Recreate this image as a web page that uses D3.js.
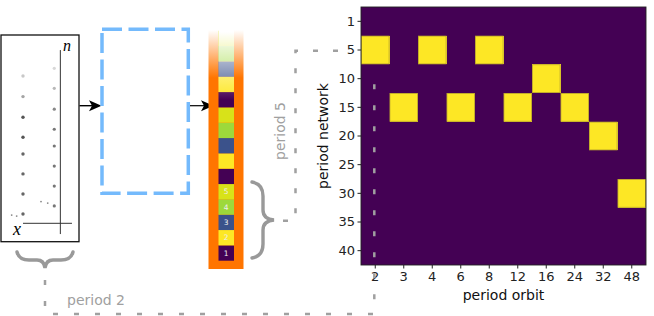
<!DOCTYPE html>
<html>
<head>
<meta charset="utf-8">
<script src="https://cdn.jsdelivr.net/npm/d3@7"></script>
<style>
body { margin:0; background:#fff; }
svg { display:block; font-family:"DejaVu Sans", sans-serif; }
</style>
</head>
<body>
<div id="chart"></div>
<script>
// ---- data ----
var periodNetwork = [1, 5, 10, 15, 20, 25, 30, 35, 40];          // heatmap rows
var periodOrbit = [2, 3, 4, 6, 8, 12, 16, 24, 32, 48];           // heatmap columns
var hitNetwork = [5, 5, 5, 10, 15, 15, 15, 15, 20, 30];          // yellow cells (row)
var hitOrbit = [2, 4, 8, 16, 3, 6, 12, 24, 32, 48];              // yellow cells (column)

var stripSeq = [1, 2, 3, 4, 5, 1, 2, 3, 4, 5, 1, 2, 3, 4, 5];    // states, bottom to top
var stripLabels = ['1', '2', '3', '4', '5'];

// sketch of x_n (left panel), units 0..100
var orbitAx = 28.2, orbitBx = 68.3;
var orbitAy = [80.2, 70.2, 60.2, 50.5, 42.4, 32.8, 23.1, 13.4];
var orbitBy = [83.9, 74.2, 64.1, 54.4, 46.3, 36.6, 26.9, 17.3];
var shadeA = ['#c8c8c8', '#a4a4a4', '#555', '#555', '#666', '#666', '#666', '#666'];
var shadeB = ['#d8d8d8', '#b8b8b8', '#888', '#777', '#777', '#777', '#777', '#777'];
var strayX = [13.7, 20.1, 51.3, 59.9];
var strayY = [12.9, 12.4, 19.4, 18.7];

var svgWidth = 654, svgHeight = 316;
var viridis = {purple: '#440154', yellow: '#fde725'};
var stateColours = {1: '#440154', 2: '#fde725', 3: '#3b528b', 4: '#9dd93b', 5: '#d8e219'};
var grey = '#a0a0a0';

svg = d3.select("#chart").append("svg").attr("width", svgWidth).attr("height", svgHeight);
var defs = svg.append('defs');

// ---- left panel: sketch ----
var sx = d3.scaleLinear().domain([0, 100]).range([1, 79]);
var sy = d3.scaleLinear().domain([0, 100]).range([241.7, 35]);

svg.append('rect').attr('x', sx(0)).attr('y', sy(100)).attr('width', sx(100) - sx(0)).attr('height', sy(0) - sy(100))
	.attr('fill', 'none').attr('stroke', '#111').attr('stroke-width', 1.3);
svg.append('line').attr('x1', sx(76.1)).attr('x2', sx(76.1)).attr('y1', sy(92.7)).attr('y2', sy(3.7))
	.attr('stroke', '#333').attr('stroke-width', 1);
svg.append('line').attr('x1', sx(28.2)).attr('x2', sx(91)).attr('y1', sy(8.9)).attr('y2', sy(8.9))
	.attr('stroke', '#333').attr('stroke-width', 1);
svg.append('text').attr('x', sx(79.5)).attr('y', sy(92.4)).attr('font-family', 'Liberation Serif')
	.attr('font-style', 'italic').attr('font-size', 16).text('n');
svg.append('text').attr('x', sx(15.5)).attr('y', sy(3.1)).attr('font-family', 'Liberation Serif')
	.attr('font-style', 'italic').attr('font-size', 18).text('x');

orbitAy.forEach(function(v, i) {
	svg.append('circle').attr('cx', sx(orbitAx)).attr('cy', sy(v)).attr('r', 1.7).attr('fill', shadeA[i]);
});
orbitBy.forEach(function(v, i) {
	svg.append('circle').attr('cx', sx(orbitBx)).attr('cy', sy(v)).attr('r', 1.6).attr('fill', shadeB[i]);
});
strayX.forEach(function(v, i) {
	svg.append('circle').attr('cx', sx(v)).attr('cy', sy(strayY[i])).attr('r', 0.9).attr('fill', '#888');
});

// arrow helper
function arrow(x1, x2, y, lw) {
	svg.append('line').attr('x1', x1).attr('x2', x2 - 9).attr('y1', y).attr('y2', y)
		.attr('stroke', '#000').attr('stroke-width', lw);
	svg.append('path')
		.attr('d', 'M' + x2 + ',' + y + 'L' + (x2 - 12.5) + ',' + (y - 5.5) + 'L' + (x2 - 9.5) + ',' + y +
			'L' + (x2 - 12.5) + ',' + (y + 5.5) + 'Z')
		.attr('fill', '#000');
}
arrow(79.5, 101.5, 105.7, 1.4);

// ---- dashed blue box ----
svg.append('rect').attr('x', 102).attr('y', 29.3).attr('width', 86.3).attr('height', 164)
	.attr('fill', 'none').attr('stroke', '#74bafc').attr('stroke-width', 3.5)
	.attr('stroke-dasharray', '20,6.5');

arrow(190, 213.5, 105.7, 1.2);

// ---- strip of states ----
var stripY = d3.scaleBand().domain(d3.range(stripSeq.length)).range([260.7, 260.7 - 15.33 * stripSeq.length]);

var og = defs.append('linearGradient').attr('id', 'orangeFade').attr('gradientUnits', 'userSpaceOnUse')
	.attr('x1', 0).attr('x2', 0).attr('y1', 30).attr('y2', 78);
og.append('stop').attr('offset', 0).attr('stop-color', '#fff');
og.append('stop').attr('offset', 1).attr('stop-color', '#ff7500');
var wg = defs.append('linearGradient').attr('id', 'whiteFade').attr('gradientUnits', 'userSpaceOnUse')
	.attr('x1', 0).attr('x2', 0).attr('y1', 32).attr('y2', 100);
wg.append('stop').attr('offset', 0).attr('stop-color', '#fff').attr('stop-opacity', 1);
wg.append('stop').attr('offset', 1).attr('stop-color', '#fff').attr('stop-opacity', 0);

svg.append('rect').attr('x', 208.5).attr('y', 26).attr('width', 35).attr('height', 243)
	.attr('fill', 'url(#orangeFade)');

svg.selectAll('.cell').data(stripSeq).enter().append('rect')
	.attr('class', 'cell')
	.attr('x', 218.5)
	.attr('y', function(d, i) { return stripY(i); })
	.attr('width', 15.5)
	.attr('height', stripY.bandwidth())
	.attr('fill', function(d) { return stateColours[d]; });

svg.append('rect').attr('x', 218.5).attr('y', 28).attr('width', 15.5).attr('height', 80)
	.attr('fill', 'url(#whiteFade)');

stripLabels.forEach(function(t, i) {
	svg.append('text')
		.attr('x', 226.25)
		.attr('y', stripY(i) + stripY.bandwidth() / 2)
		.attr('text-anchor', 'middle')
		.attr('dy', '.35em')
		.attr('font-size', 7.5)
		.attr('fill', '#eee')
		.text(t);
});

// ---- braces ----
function braceV(x0, x1, y0, y1) {
	var m = (y0 + y1) / 2, xm = (x0 + x1) / 2;
	return 'M' + x0 + ',' + y0 + 'Q' + xm + ',' + (y0 + 2) + ' ' + xm + ',' + (y0 + 14) +
		'L' + xm + ',' + (m - 10) + 'Q' + xm + ',' + (m - 1) + ' ' + x1 + ',' + m +
		'Q' + xm + ',' + (m + 1) + ' ' + xm + ',' + (m + 10) +
		'L' + xm + ',' + (y1 - 14) + 'Q' + xm + ',' + (y1 - 2) + ' ' + x0 + ',' + y1;
}
function braceH(x0, x1, y0, y1) {
	var m = (x0 + x1) / 2, ym = (y0 + y1) / 2;
	return 'M' + x0 + ',' + y0 + 'Q' + (x0 + 2) + ',' + ym + ' ' + (x0 + 12) + ',' + ym +
		'L' + (m - 8) + ',' + ym + 'Q' + (m - 1) + ',' + ym + ' ' + m + ',' + y1 +
		'Q' + (m + 1) + ',' + ym + ' ' + (m + 8) + ',' + ym +
		'L' + (x1 - 12) + ',' + ym + 'Q' + (x1 - 2) + ',' + ym + ' ' + x1 + ',' + y0;
}
svg.append('path').attr('d', braceV(252, 274, 182, 258))
	.attr('fill', 'none').attr('stroke', '#999').attr('stroke-width', 3.4).attr('stroke-linecap', 'round');
svg.append('path').attr('d', braceH(17, 73, 252, 268))
	.attr('fill', 'none').attr('stroke', '#999').attr('stroke-width', 3.4).attr('stroke-linecap', 'round');

// ---- heatmap ----
var xCol = d3.scaleBand().domain(periodOrbit).range([361, 646]);
var yRow = d3.scaleBand().domain(periodNetwork).range([7, 265]);

var cells = [];
periodNetwork.forEach(function(r) {
	periodOrbit.forEach(function(c) {
		var hit = 0;
		hitNetwork.forEach(function(h, k) { if (h === r && hitOrbit[k] === c) hit = 1; });
		cells.push({r: r, c: c, v: hit});
	});
});

svg.selectAll('.hm').data(cells).enter().append('rect')
	.attr('class', 'hm')
	.attr('x', function(d) { return xCol(d.c); })
	.attr('y', function(d) { return yRow(d.r); })
	.attr('width', xCol.bandwidth())
	.attr('height', yRow.bandwidth())
	.attr('fill', function(d) { return d.v ? viridis.yellow : viridis.purple; })
	.attr('shape-rendering', 'crispEdges');
svg.selectAll('.hmEdge').data(cells.filter(function(d) { return d.v; })).enter().append('rect')
	.attr('class', 'hmEdge')
	.attr('x', function(d) { return xCol(d.c) + 0.4; })
	.attr('y', function(d) { return yRow(d.r) + 0.4; })
	.attr('width', xCol.bandwidth() - 0.8)
	.attr('height', yRow.bandwidth() - 0.8)
	.attr('fill', 'none').attr('stroke', '#b59f2c').attr('stroke-width', 0.8);

svg.append('rect').attr('x', 361).attr('y', 7).attr('width', 285).attr('height', 258)
	.attr('fill', 'none').attr('stroke', '#222').attr('stroke-width', 0.9);

var gy = svg.append('g').attr('transform', 'translate(361,0)')
	.call(d3.axisLeft(yRow).tickSize(3.5).tickPadding(2.5));
var gx = svg.append('g').attr('transform', 'translate(0,265)')
	.call(d3.axisBottom(xCol).tickSize(3.5).tickPadding(3.5));
[gx, gy].forEach(function(g) {
	g.select('.domain').remove();
	g.attr('font-family', 'DejaVu Sans').attr('font-size', 13).attr('color', '#222');
});

svg.append('text').attr('transform', 'translate(327.5,136) rotate(-90)')
	.attr('text-anchor', 'middle').attr('font-size', 14).attr('fill', '#111').text('period network');
svg.append('text').attr('x', 503.5).attr('y', 299.5)
	.attr('text-anchor', 'middle').attr('font-size', 14).attr('fill', '#111').text('period orbit');

// ---- grey dashed connectors ----
svg.append('path').attr('d', 'M283,220.7H295.5V50.7H342')
	.attr('fill', 'none').attr('stroke', grey).attr('stroke-width', 2.5).attr('stroke-dasharray', '5,15');
svg.append('path').attr('d', 'M45,280V314H374.3V79')
	.attr('fill', 'none').attr('stroke', grey).attr('stroke-width', 2.5).attr('stroke-dasharray', '5,16');

svg.append('text').attr('transform', 'translate(285,131) rotate(-90)')
	.attr('text-anchor', 'middle').attr('font-size', 14).attr('fill', grey).text('period 5');
svg.append('text').attr('x', 67).attr('y', 305)
	.attr('font-size', 14).attr('fill', grey).text('period 2');
</script>
</body>
</html>
